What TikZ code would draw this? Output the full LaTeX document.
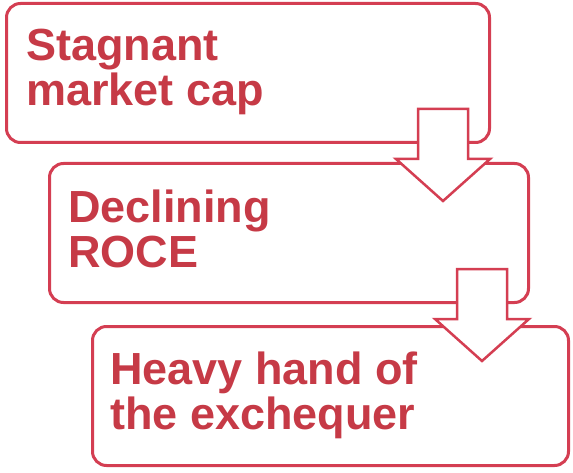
\documentclass[tikz,border=0pt]{standalone}
\usepackage{fontspec}
\setmainfont{Liberation Sans}
\usetikzlibrary{calc}
\definecolor{boxred}{RGB}{212,62,82}
\definecolor{txtred}{RGB}{198,58,70}
\begin{document}
\begin{tikzpicture}[x=1pt,y=-1pt,
  box/.style={draw=boxred,line width=3pt,rounded corners=14pt,minimum height=139pt,anchor=north west,inner sep=0pt},
  lbl/.style={text=txtred,font=\fontsize{45}{45}\selectfont\bfseries,align=left,anchor=north west,inner sep=0pt},
  blockarrow/.style={draw=boxred,line width=2.5pt,fill=white,line join=miter}]
\useasboundingbox (0,0) rectangle (573,473);
\node[box,minimum width=483pt] (b1) at (5,2) {};
\node[box,minimum width=479pt] (b2) at (48,162) {};
\node[box,minimum width=476pt] (b3) at (91,325) {};
\node[lbl] (t1) at (26,29) {Stagnant\\market cap};
\node[lbl] (t2) at (68,190) {Declining\\ROCE};
\node[lbl] (t3) at (110,352) {Heavy hand of\\the exchequer};
\foreach \b in {b1,b2}{
  \draw[blockarrow] ($(\b.south east)+(-73,-35)$) -- ($(\b.south east)+(-23,-35)$)
    -- ($(\b.south east)+(-23,15)$) -- ($(\b.south east)+(-1,15)$)
    -- ($(\b.south east)+(-48,57)$) -- ($(\b.south east)+(-95,15)$)
    -- ($(\b.south east)+(-73,15)$) -- cycle;
}
\end{tikzpicture}
\end{document}
